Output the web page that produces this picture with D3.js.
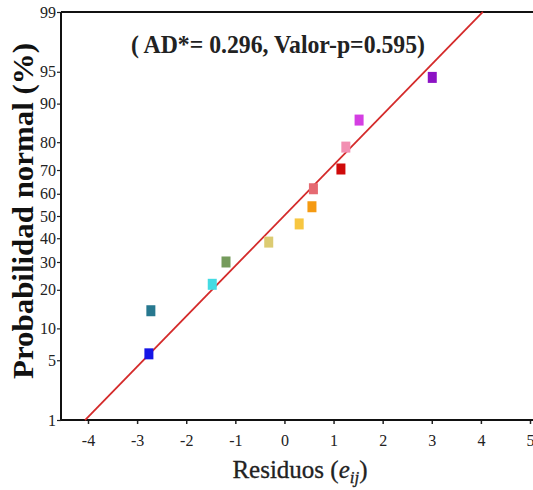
<!DOCTYPE html>
<html><head><meta charset="utf-8">
<script src="https://cdn.jsdelivr.net/npm/d3@7"></script>
<style>body{margin:0;background:#fff}svg{display:block}svg text{font-family:"Liberation Serif","Tinos","Times New Roman","DejaVu Serif",serif}</style>
</head><body>
<svg id="c" width="533" height="490"></svg>
<script>
const residuals = [-2.76, -2.72, -1.47, -1.19, -0.32, 0.30, 0.56, 0.59, 1.15, 1.25, 1.52, 3.01];
const probabilities = [5.8, 14.0, 21.8, 30.0, 38.3, 46.4, 54.2, 62.2, 70.4, 78.4, 86.3, 94.3];
const colors = ["#1515e6", "#27788f", "#44dbe3", "#759b5c", "#dccb72", "#f7c640", "#f59a12", "#e56a72", "#cf0a0a", "#f28fb2", "#d43ee2", "#8c12c4"];
const lineX = [-4.06, 4.04];
const lineP = [1, 99];
const xTicks = [-4, -3, -2, -1, 0, 1, 2, 3, 4, 5];
const yTicks = [1, 5, 10, 20, 30, 40, 50, 60, 70, 80, 90, 95, 99];
const titleText = "( AD*= 0.296, Valor-p=0.595)";

const svg = d3.select("#c");
const L = 61, R = 533, T = 12, B = 420;
const x = d3.scaleLinear().domain([-4, 5]).range([88, 530]);
const zMax = 2.3263;
const zs = d3.scaleLinear().domain([-zMax, zMax]).range([B, T]);
function probit(p){
  const a=[-39.69683028665376,220.9460984245205,-275.9285104469687,138.3577518672690,-30.66479806614716,2.506628277459239];
  const b=[-54.47609879822406,161.5858368580409,-155.6989798598866,66.80131188771972,-13.28068155288572];
  const c=[-0.007784894002430293,-0.3223964580411365,-2.400758277161838,-2.549732539343734,4.374664141464968,2.938163982698783];
  const d=[0.007784695709041462,0.3224671290700398,2.445134137142996,3.754408661907416];
  const pl=0.02425;let q,r;
  if(p<pl){q=Math.sqrt(-2*Math.log(p));return (((((c[0]*q+c[1])*q+c[2])*q+c[3])*q+c[4])*q+c[5])/((((d[0]*q+d[1])*q+d[2])*q+d[3])*q+1);}
  if(p<=1-pl){q=p-0.5;r=q*q;return (((((a[0]*r+a[1])*r+a[2])*r+a[3])*r+a[4])*r+a[5])*q/(((((b[0]*r+b[1])*r+b[2])*r+b[3])*r+b[4])*r+1);}
  q=Math.sqrt(-2*Math.log(1-p));return -(((((c[0]*q+c[1])*q+c[2])*q+c[3])*q+c[4])*q+c[5])/((((d[0]*q+d[1])*q+d[2])*q+d[3])*q+1);
}
// probability scale built on a linear scale over normal quantiles
function probScale(){
  const s = v => zs(probit(v/100));
  s.range = () => zs.range();
  s.domain = () => [1, 99];
  s.copy = () => probScale();
  return s;
}
const y = probScale();

const xAxis = svg.append("g").attr("transform", `translate(0,${B})`)
  .call(d3.axisBottom(x).tickValues(xTicks).tickSize(4).tickSizeOuter(0).tickFormat(d => String(d)));
xAxis.attr("font-family", null);
xAxis.select(".domain").remove();
xAxis.selectAll("text").attr("font-size", 16).attr("fill", "#222").attr("dy", "1.2em");
xAxis.selectAll("line").attr("stroke", "#222").attr("stroke-width", 1.5);

const yAxis = svg.append("g").attr("transform", `translate(${L},0)`)
  .call(d3.axisLeft(y).tickValues(yTicks).tickSize(4).tickSizeOuter(0).tickFormat(d => String(d)));
yAxis.attr("font-family", null);
yAxis.select(".domain").remove();
yAxis.selectAll("text").attr("font-size", 16).attr("fill", "#222").attr("x", -5);
yAxis.selectAll("line").attr("stroke", "#222").attr("stroke-width", 1.2);

svg.append("line").attr("x1", L).attr("x2", R).attr("y1", B).attr("y2", B).attr("stroke", "#111").attr("stroke-width", 2);
svg.append("line").attr("x1", L).attr("x2", R).attr("y1", T).attr("y2", T).attr("stroke", "#111").attr("stroke-width", 2);
svg.append("line").attr("x1", L).attr("x2", L).attr("y1", T).attr("y2", B).attr("stroke", "#111").attr("stroke-width", 2);

svg.append("line").attr("x1", x(lineX[0])).attr("y1", y(lineP[0])).attr("x2", x(lineX[1])).attr("y2", y(lineP[1]))
  .attr("stroke", "#d42a2a").attr("stroke-width", 1.8);

svg.selectAll("rect.pt").data(residuals).join("rect").attr("class", "pt")
  .attr("x", d => x(d) - 4.5).attr("y", (d, i) => y(probabilities[i]) - 5.5)
  .attr("width", 9).attr("height", 11).attr("fill", (d, i) => colors[i]);

svg.append("text").attr("x", 278).attr("y", 53).attr("text-anchor", "middle")
  .attr("font-weight", "bold").attr("font-size", 25).attr("fill", "#222")
  .attr("textLength", 294).attr("lengthAdjust", "spacingAndGlyphs").text(titleText);

svg.append("text").attr("transform", "translate(33,211) rotate(-90)").attr("text-anchor", "middle")
  .attr("font-weight", "bold").attr("font-size", 29).attr("fill", "#111")
  .attr("textLength", 336).attr("lengthAdjust", "spacingAndGlyphs").text("Probabilidad normal (%)");

const xl = svg.append("text").attr("x", 300).attr("y", 478).attr("text-anchor", "middle")
  .attr("font-size", 25).attr("fill", "#222").attr("stroke", "#222").attr("stroke-width", 0.3);
xl.append("tspan").text("Residuos (");
xl.append("tspan").attr("font-style", "italic").text("e");
xl.append("tspan").attr("font-style", "italic").attr("font-size", 17).attr("dy", 5).text("ij");
xl.append("tspan").attr("dy", -5).text(")");
</script>
</body></html>
